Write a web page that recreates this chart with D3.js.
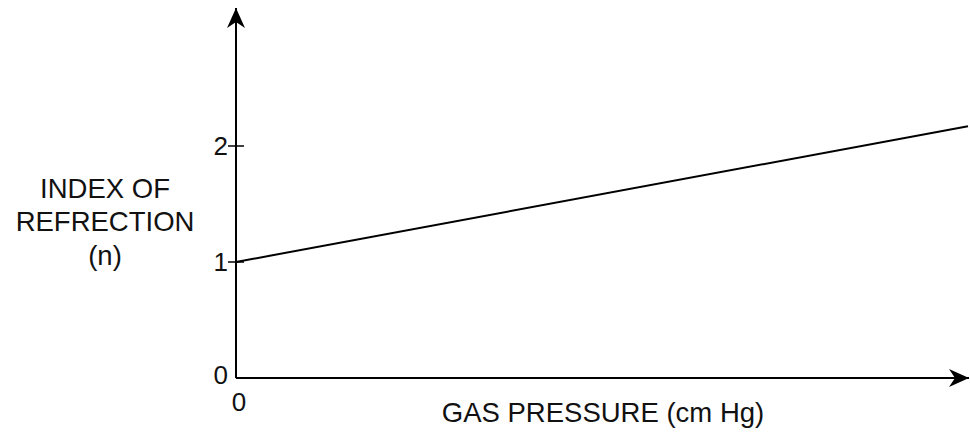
<!DOCTYPE html>
<html>
<head>
<meta charset="utf-8">
<script src="https://cdn.jsdelivr.net/npm/d3@7"></script>
<style>
  html, body { margin: 0; padding: 0; background: #fff; }
  svg text { font-family: "Liberation Sans", Arial, sans-serif; fill: #111; }
</style>
</head>
<body>
<svg id="chart" width="970" height="437"></svg>
<script>
// data
const pressure = [0, 10];
const refIndex = [1, 2.17];
const yTicks = [1, 2];
const yTickLabels = ["0", "1", "2"];
const yTitle = ["INDEX OF", "REFRECTION", "(n)"];
const xTitle = "GAS PRESSURE (cm Hg)";

const svg = d3.select("#chart");
const width = 970, height = 437;
const x0 = 236, y0 = 378;
const fs = 27.5;

const x = d3.scaleLinear().domain([0, 10]).range([x0, 968]);
const y = d3.scaleLinear().domain([0, 3]).range([y0, y0 - 3 * 116]);

// arrow heads
const defs = svg.append("defs");
defs.append("marker")
  .attr("id", "arrow")
  .attr("viewBox", "0 0 10 10")
  .attr("refX", 10).attr("refY", 5)
  .attr("markerWidth", 20).attr("markerHeight", 18)
  .attr("markerUnits", "userSpaceOnUse")
  .attr("orient", "auto")
  .attr("preserveAspectRatio", "none")
  .append("path")
  .attr("d", "M0,0 L10,5 L0,10 L3,5 Z")
  .attr("fill", "#000");

// axes
svg.append("line")
  .attr("x1", x0).attr("y1", y0).attr("x2", x0).attr("y2", 8)
  .attr("stroke", "#000").attr("stroke-width", 2)
  .attr("marker-end", "url(#arrow)");
svg.append("line")
  .attr("x1", x0).attr("y1", y0).attr("x2", 969).attr("y2", y0)
  .attr("stroke", "#000").attr("stroke-width", 2)
  .attr("marker-end", "url(#arrow)");

// y ticks
svg.selectAll(".ytick").data(yTicks).join("line")
  .attr("x1", x0 - 8).attr("x2", x0 + 8)
  .attr("y1", d => y(d)).attr("y2", d => y(d))
  .attr("stroke", "#000").attr("stroke-width", 1.5);

svg.selectAll(".ylab").data(yTickLabels).join("text")
  .attr("x", x0 - 8)
  .attr("y", (d, i) => y(i) + (i === 0 ? -3 : 0))
  .attr("dy", "0.35em")
  .attr("text-anchor", "end")
  .attr("font-size", 26)
  .text(d => d);

svg.append("text")
  .attr("x", x(0) + 3).attr("y", y0 + 24)
  .attr("dy", "0.35em")
  .attr("text-anchor", "middle")
  .attr("font-size", 26)
  .text("0");

// line
const line = d3.line().x((d, i) => x(d)).y((d, i) => y(refIndex[i]));
svg.append("path")
  .datum(pressure)
  .attr("d", line)
  .attr("fill", "none")
  .attr("stroke", "#000")
  .attr("stroke-width", 2);

// titles
svg.selectAll(".ytitle").data(yTitle).join("text")
  .attr("x", 105)
  .attr("y", (d, i) => 188 + i * 33.5)
  .attr("dy", "0.35em")
  .attr("text-anchor", "middle")
  .attr("font-size", fs)
  .text(d => d);

svg.append("text")
  .attr("x", 603).attr("y", 412)
  .attr("dy", "0.35em")
  .attr("text-anchor", "middle")
  .attr("font-size", fs)
  .text(xTitle);
</script>
</body>
</html>
